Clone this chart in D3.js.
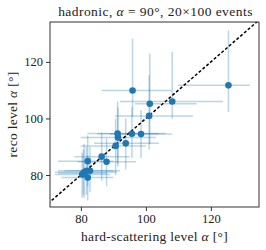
<!DOCTYPE html>
<html><head><meta charset="utf-8">
<script src="https://cdn.jsdelivr.net/npm/d3@7"></script>
<style>
body{margin:0;background:#fff;}
svg text{font-family:"Liberation Serif","DejaVu Serif",serif;fill:#222;}
</style></head><body>
<svg id="c" width="266" height="250"></svg>
<script>
// data: hard-scattering level (x), reco level (y), with error ranges
const xVals = [95.9,125.4,101.2,108.1,101.0,91.3,95.7,98.5,91.4,90.7,93.8,86.4,87.9,82.1,81.0,81.7,82.8,80.4,82.1,80.8];
const yVals = [109.9,111.7,105.2,106.0,100.9,94.7,94.6,94.5,93.3,90.3,91.2,86.5,84.7,84.9,81.0,81.5,81.5,80.2,79.1,80.6];
const xLow  = [86.4,109.9,96.6,92.0,90.5,82,85,89,80,80,84,78,79,73,72,73,75,72,74,73];
const xHigh = [107.9,132.0,115.6,123.7,114.5,106,104,108,103,100,104,95,97,90,91,90,92,89,90,88];
const yLow  = [100.6,102.3,91,100,89,84,86,86,83,80,82,78,76,76,72,73,74,72,71,73];
const yHigh = [128.2,131.1,123,123.5,115.3,106,104,103,104,100,100,95,93,94,91,90,90,88,87,89];
const ticks = [80,100,120];
const xDomain = [70.5,134.8];
const yDomain = [68.7,134.1];

const svg = d3.select("#c");
const L=50,R=259,T=22,B=207;
const x = d3.scaleLinear().domain(xDomain).range([L,R]);
const y = d3.scaleLinear().domain(yDomain).range([B,T]);

svg.append("clipPath").attr("id","clip").append("rect")
  .attr("x",L).attr("y",T).attr("width",R-L).attr("height",B-T);
const g = svg.append("g").attr("clip-path","url(#clip)");
const idx = d3.range(xVals.length);
const ec = "rgba(31,119,180,0.3)";
g.selectAll("line.h").data(idx).join("line")
  .attr("x1",i=>x(xLow[i])).attr("x2",i=>x(xHigh[i]))
  .attr("y1",i=>y(yVals[i])).attr("y2",i=>y(yVals[i]))
  .attr("stroke",ec).attr("stroke-width",1.5);
g.selectAll("line.v").data(idx).join("line")
  .attr("x1",i=>x(xVals[i])).attr("x2",i=>x(xVals[i]))
  .attr("y1",i=>y(yLow[i])).attr("y2",i=>y(yHigh[i]))
  .attr("stroke",ec).attr("stroke-width",1.5);
// diagonal y=x
const d0 = Math.min(xDomain[0],yDomain[0]), d1 = Math.max(xDomain[1],yDomain[1]);
g.append("line").attr("x1",x(d0)).attr("y1",y(d0)).attr("x2",x(d1)).attr("y2",y(d1))
  .attr("stroke","#000").attr("stroke-width",1.5).attr("stroke-dasharray","3,2");
g.selectAll("circle").data(idx).join("circle")
  .attr("cx",i=>x(xVals[i])).attr("cy",i=>y(yVals[i])).attr("r",3.3)
  .attr("fill","#1f77b4");

// axes
const xa = svg.append("g").attr("transform",`translate(0,${B})`)
  .call(d3.axisBottom(x).tickValues(ticks).tickSize(4).tickPadding(3));
const ya = svg.append("g").attr("transform",`translate(${L},0)`)
  .call(d3.axisLeft(y).tickValues(ticks).tickSize(4).tickPadding(3));
[xa,ya].forEach(a=>{a.select(".domain").remove();
  a.selectAll("text").style("font-size","12.5px").attr("fill","#333");
  a.selectAll("line").attr("stroke","#333");});
svg.append("rect").attr("x",L).attr("y",T).attr("width",R-L).attr("height",B-T)
  .attr("fill","none").attr("stroke","#333").attr("stroke-width",1);

// title
const t = svg.append("text").attr("x",(L+R)/2+1).attr("y",15.5).attr("text-anchor","middle")
  .style("font-size","13.5px").style("letter-spacing","0.45px");
t.append("tspan").text("hadronic, ");
t.append("tspan").style("font-style","italic").text("α");
t.append("tspan").text(" = 90°, 20×100 events");
// x label
const xl = svg.append("text").attr("x",(L+R)/2).attr("y",241).attr("text-anchor","middle")
  .style("font-size","13.5px").style("letter-spacing","0.3px");
xl.append("tspan").text("hard-scattering level ");
xl.append("tspan").style("font-style","italic").text("α");
xl.append("tspan").text(" [°]");
// y label
const yl = svg.append("text").attr("transform",`translate(17,${(T+B)/2}) rotate(-90)`).attr("text-anchor","middle")
  .style("font-size","13.5px").style("letter-spacing","0.3px");
yl.append("tspan").text("reco level ");
yl.append("tspan").style("font-style","italic").text("α");
yl.append("tspan").text(" [°]");
</script></body></html>
